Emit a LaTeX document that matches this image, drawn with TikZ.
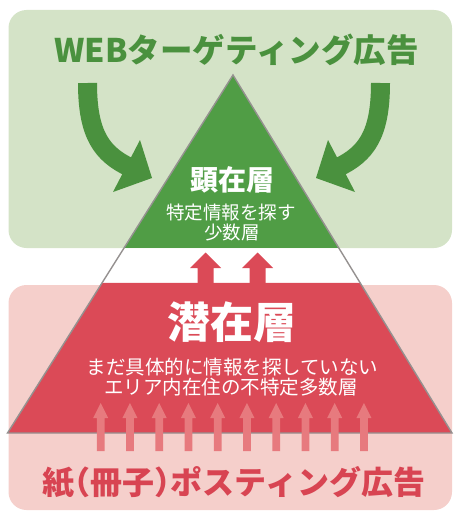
\documentclass[tikz,border=0pt]{standalone}
\usepackage{fontspec}
\setmainfont{Noto Sans CJK JP}
\usetikzlibrary{calc}
\definecolor{lgreen}{HTML}{D4E3C7}
\definecolor{dgreen}{HTML}{509D45}
\definecolor{agreen}{HTML}{4A913E}
\definecolor{lpink}{HTML}{F5CFCB}
\definecolor{dred}{HTML}{DB4A57}
\definecolor{pinkarrow}{HTML}{E77A7E}
\definecolor{tred}{HTML}{D84452}
\definecolor{edgegray}{HTML}{959190}
\tikzset{
  lbl/.style={inner sep=0pt, text=white},
  bigarrowline/.style={agreen, line width=19pt},
}
\newcommand{\hparen}[1]{{\addfontfeature{RawFeature=+halt}#1}}
\begin{document}
\begin{tikzpicture}[x=1pt,y=-1pt]
\useasboundingbox (0,0) rectangle (453,511);
% background boxes
\fill[lgreen, rounded corners=18pt] (8.5,10) rectangle (452,248);
\fill[lpink, rounded corners=18pt] (8.5,285) rectangle (452,510);
% pyramid
\coordinate (A) at (233,75);
\coordinate (BL) at (7.5,433);
\coordinate (BR) at (452,433);
\coordinate (GL) at ($(A)!0.4832!(BL)$);
\coordinate (GR) at ($(A)!0.4832!(BR)$);
\coordinate (RL) at ($(A)!0.5810!(BL)$);
\coordinate (RR) at ($(A)!0.5810!(BR)$);
\fill[dred] (RL) -- (RR) -- (BR) -- (BL) -- cycle;
\fill[dgreen] (A) -- (GR) -- (GL) -- cycle;
\draw[edgegray, line width=1.4pt] (A) -- (BL) -- (BR) -- cycle;
% red arrows
\foreach \cx in {205.5,257.5}{
  \fill[dred] (\cx,252.5) -- (\cx+15.5,268) -- (\cx+8,268) -- (\cx+8,286) -- (\cx-8,286) -- (\cx-8,268) -- (\cx-15.5,268) -- cycle;
}
% pink arrows
\foreach \i in {0,...,9}{
  \pgfmathsetmacro\cx{100.7+29.25*\i}
  \fill[pinkarrow] (\cx,403) -- (\cx+7.5,418) -- (\cx+3.8,418) -- (\cx+3.8,451) -- (\cx-3.8,451) -- (\cx-3.8,418) -- (\cx-7.5,418) -- cycle;
}
% green curved arrows
\coordinate (L0) at (87.5,83);
\coordinate (L1) at (130,167.5);
\coordinate (R0) at (380.5,83);
\coordinate (R1) at (338,167.5);
\draw[bigarrowline] (L0) .. controls (87.5,135) and (102,154) .. (L1);
\fill[agreen] (140,140) -- (152,178) -- (113,192) -- cycle;
\draw[bigarrowline] (R0) .. controls (380.5,135) and (366,154) .. (R1);
\fill[agreen] (328,140) -- (316,178) -- (355,192) -- cycle;
% texts
\node[inner sep=0pt, text=agreen, font=\fontsize{32.5}{32.5}\selectfont\bfseries] (webtitle) at (236.5,50) {WEBターゲティング広告};
\node[lbl, font=\fontsize{28}{28}\selectfont\bfseries] (kenzai) at (232.5,180) {顕在層};
\node[lbl, font=\fontsize{18.5}{18.5}\selectfont] (tokutei) at (231,213) {特定情報を探す};
\node[lbl, font=\fontsize{18.5}{18.5}\selectfont] (shosu) at (232,232) {少数層};
\node[lbl, font=\fontsize{43}{43}\selectfont\bfseries] (senzai) at (231.5,322) {潜在層};
\node[lbl, font=\fontsize{19.5}{19.5}\selectfont] (line1) at (232.5,367) {まだ具体的に情報を探していない};
\node[lbl, font=\fontsize{19.5}{19.5}\selectfont] (line2) at (231,387) {エリア内在住の不特定多数層};
\node[inner sep=0pt, text=tred, font=\fontsize{32}{32}\selectfont\bfseries] (kami) at (234,482) {紙\hparen{（}冊子\hparen{）}ポスティング広告};
\end{tikzpicture}
\end{document}
